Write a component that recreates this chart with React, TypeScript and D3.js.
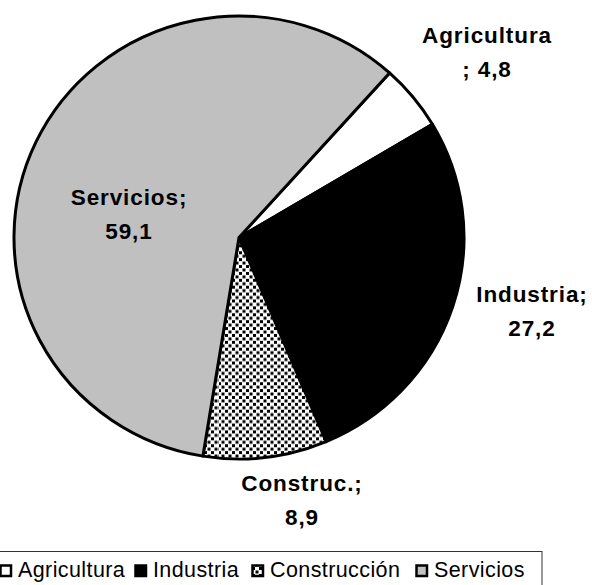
import React from "react";
import * as d3 from "d3";

const categories = ["Agricultura", "Industria", "Construcción", "Servicios"];
const values = [4.8, 27.2, 8.9, 59.1];
const sliceLabels = [
  ["Agricultura", "; 4,8"],
  ["Industria;", "27,2"],
  ["Construc.;", "8,9"],
  ["Servicios;", "59,1"],
];
const fills = ["#FFFFFF", "#000000", "url(#dots)", "#C0C0C0"];

const W = 592;
const H = 585;
const cx = 239;
const cy = 237.5;
const RX = 225;
const RY = 221.5;
const startDeg = 42;

// label anchor positions (centre x, first baseline y)
const labelPos: [number, number][] = [
  [487, 43],
  [532, 302],
  [302, 491],
  [129, 205],
];

const legendX = [-1, 134, 251, 415];

export default function App() {
  const pie = d3
    .pie<number>()
    .sort(null)
    .value((d) => d)
    .startAngle((startDeg * Math.PI) / 180)
    .endAngle((startDeg * Math.PI) / 180 + 2 * Math.PI);
  const arcs = pie(values);
  const arc = d3.arc<d3.PieArcDatum<number>>().innerRadius(0).outerRadius(RX);

  return (
    <svg
      width={W}
      height={H}
      style={{ position: "absolute", left: 0, top: 0, background: "#fff" }}
      fontFamily="Arial, 'Liberation Sans', sans-serif"
    >
      <defs>
        <pattern id="dots" width={7} height={7} patternUnits="userSpaceOnUse">
          <rect width={7} height={7} fill="#fff" />
          <rect x={0} y={0} width={3} height={3} fill="#000" shapeRendering="crispEdges" />
          <rect x={3.5} y={3.5} width={3} height={3} fill="#000" />
        </pattern>
      </defs>
      <g transform={`translate(${cx},${cy}) scale(1,${RY / RX})`}>
        {arcs.map((a, i) => (
          <path
            key={categories[i]}
            d={arc(a) || ""}
            fill={fills[i]}
            stroke="#000"
            strokeWidth={3}
            strokeLinejoin="round"
          />
        ))}
      </g>
      {sliceLabels.map((lines, i) => (
        <text
          key={i}
          x={labelPos[i][0]}
          y={labelPos[i][1]}
          textAnchor="middle"
          fontWeight="bold"
          fontSize={22.5}
          letterSpacing={0.9}
          fill="#000"
        >
          <tspan x={labelPos[i][0]}>{lines[0]}</tspan>
          <tspan x={labelPos[i][0]} dy={33.5}>
            {lines[1]}
          </tspan>
        </text>
      ))}
      <rect x={-5} y={551.5} width={547} height={40} fill="#fff" stroke="#333" strokeWidth={1} />
      {categories.map((c, i) => (
        <g key={c}>
          <rect
            x={legendX[i] + 1.5}
            y={565.5}
            width={10.5}
            height={10.5}
            fill={fills[i]}
            stroke="#000"
            strokeWidth={2.5}
          />
          <text x={legendX[i] + 19} y={577} fontSize={21.5} letterSpacing={0.4} fill="#000">
            {c}
          </text>
        </g>
      ))}
    </svg>
  );
}
